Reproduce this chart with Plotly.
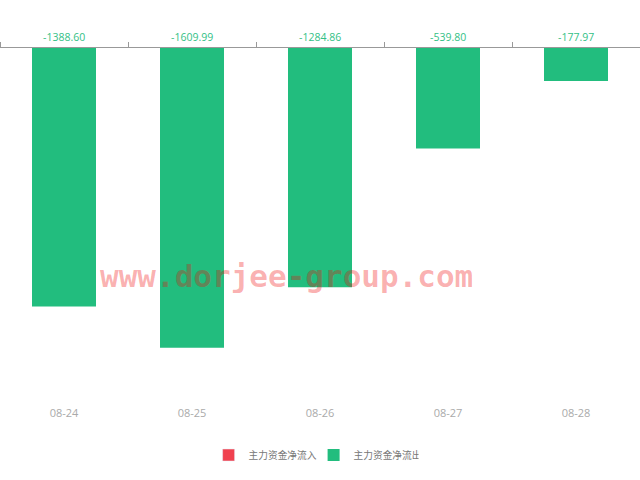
import plotly.graph_objects as go

dates = ["08-24", "08-25", "08-26", "08-27", "08-28"]
outflow = [-1388.60, -1609.99, -1284.86, -539.80, -177.97]
inflow = [None, None, None, None, None]
inflow_name = "主力资金净流入"
outflow_name = "主力资金净流出"

green = "#22bd7e"
red = "#f0414f"

fig = go.Figure()
fig.add_trace(go.Bar(x=dates, y=inflow, name=inflow_name, marker_color=red))
fig.add_trace(go.Bar(x=dates, y=outflow, name=outflow_name, marker_color=green,
                     marker_line_width=0, hoverinfo="x+y"))
# invisible trace for the top axis
fig.add_trace(go.Scatter(x=dates, y=[0]*len(dates), xaxis="x2", mode="none",
                         showlegend=False, hoverinfo="skip"))

for d, v in zip(dates, outflow):
    fig.add_annotation(x=d, y=0, text=f"{v:.2f}", showarrow=False, yanchor="bottom",
                       yshift=2, font=dict(size=10.5, color="#33bf86",
                                           family="Open Sans, Noto Sans CJK SC"))

fig.add_annotation(xref="paper", yref="paper", x=0.448, y=0.313, yshift=-18,
                   text="<b>www.dorjee-group.com</b>",
                   showarrow=False, font=dict(size=31, color="rgba(240,10,10,0.32)",
                                              family="DejaVu Sans Mono"))

fig.update_layout(
    width=640, height=480,
    margin=dict(l=0, r=0, t=48, b=97, autoexpand=False),
    plot_bgcolor="white", paper_bgcolor="white",
    bargap=0.5, barmode="overlay",
    font=dict(family="Noto Sans CJK SC, Open Sans", size=11, color="#666"),
    xaxis=dict(type="category", categoryorder="array", categoryarray=dates,
               showline=False, ticks="", showgrid=False, automargin=False,
               tickfont=dict(color="#aaaaaa", size=11, family="Open Sans"),
               ticklabelstandoff=22),
    xaxis2=dict(type="category", overlaying="x", side="top", matches="x", showline=True,
                linecolor="#999", linewidth=1, ticks="outside", ticklen=5, tickcolor="#999",
                tickson="boundaries", showticklabels=False, showgrid=False, automargin=False),
    yaxis=dict(range=[-1800, 0], showgrid=False, zeroline=False, showticklabels=False,
               showline=False, automargin=False),
    legend=dict(orientation="h", x=0.49, xanchor="center", y=-0.215, yanchor="middle",
                font=dict(size=9.7, color="#777"), itemwidth=30,
                entrywidth=60, entrywidthmode="pixels"),
    showlegend=True,
)

fig.write_html("out.html", config={"displayModeBar": False},
               post_script="document.body.style.margin='0';")
